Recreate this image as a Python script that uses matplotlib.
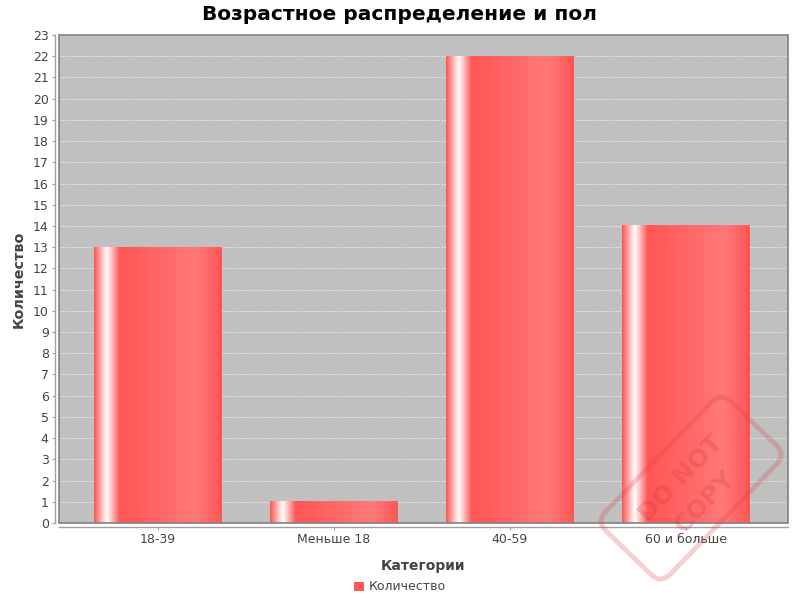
import numpy as np
import matplotlib
matplotlib.use("Agg")
import matplotlib.pyplot as plt
from matplotlib.patches import Rectangle, FancyBboxPatch
from matplotlib.transforms import Affine2D, IdentityTransform
from matplotlib.colors import to_rgb

# ---- data ----
categories = ["18-39", "Меньше 18", "40-59", "60 и больше"]
values = [13, 1, 22, 14]
series_name = "Количество"
title = "Возрастное распределение и пол"
x_label = "Категории"
y_label = "Количество"
y_ticks = list(range(0, 24))

plt.rcParams['font.family'] = ['DejaVu Sans']

W, H = 800, 600
fig = plt.figure(figsize=(8, 6), dpi=100)
fig.patch.set_facecolor("white")

L, R, T, B = 59, 788, 35, 523
ax = fig.add_axes([L / W, 1 - B / H, (R - L) / W, (B - T) / H])
ax.set_facecolor("#c0c0c0")

base = np.array(to_rgb("#ff5555"))
bright = np.array(to_rgb("#ff7979"))
white = np.array([1.0, 1.0, 1.0])
stops = [0.0, 0.10, 0.20, 0.80, 1.0]
cols = [base, white, base, bright, base]
N = 256
t = np.linspace(0, 1, N)
grad = np.zeros((1, N, 3))
for ch in range(3):
    grad[0, :, ch] = np.interp(t, stops, [c[ch] for c in cols])

bar_w = 0.727
x = np.arange(len(categories))
for xi, v in zip(x, values):
    ax.imshow(grad, extent=(xi - bar_w / 2, xi + bar_w / 2, 0, v),
              aspect='auto', interpolation='bilinear', zorder=3)

ax.set_xlim(-0.5625, 3.58)
ax.set_ylim(0, 23)
ax.set_yticks(y_ticks)
ax.set_xticks(x)
ax.set_xticklabels(categories)

ax.yaxis.grid(True, color="#ffffff", linestyle=(0, (2, 2)), linewidth=0.55, alpha=0.95, zorder=1)
ax.xaxis.grid(False)
ax.set_axisbelow(True)

for s in ["top", "right"]:
    ax.spines[s].set_visible(False)
for s in ["left", "bottom"]:
    ax.spines[s].set_position(("outward", 2.9))
    ax.spines[s].set_color("#a0a0a0")
    ax.spines[s].set_linewidth(1.0)

# plot outline
ax.add_patch(Rectangle((0, 0), 1, 1, transform=ax.transAxes, fill=False,
                       edgecolor="#808080", linewidth=1.2, zorder=5, clip_on=False))

ax.tick_params(axis='both', direction='out', length=2.5, width=0.8, color="#a0a0a0",
               labelsize=9, labelcolor="#444444", pad=2)

ax.set_xlabel(x_label, fontsize=10, fontweight='bold', color="#444444", labelpad=9)
ax.set_ylabel(y_label, fontsize=10.3, fontweight='bold', color="#444444", labelpad=5)

fig.text(0.5, 1 - 14 / H, title, ha='center', va='center', fontsize=14.5,
         fontweight='bold', color="black")

leg = fig.legend(handles=[Rectangle((0, 0), 1, 1, facecolor="#ff5555", edgecolor="none")],
                 labels=[series_name], loc='center', bbox_to_anchor=(0.5, 1 - 587 / H),
                 frameon=False, handlelength=0.75, handleheight=0.75, handletextpad=0.4,
                 fontsize=9, labelcolor="#444444")

# watermark stamp
cx, cy = 691, H - 488
rot = Affine2D().rotate_deg_around(cx, cy, 46)
stamp = FancyBboxPatch((cx - 90, cy - 45), 180, 90,
                       boxstyle="round,pad=0,rounding_size=14",
                       transform=rot + IdentityTransform(), fill=False,
                       edgecolor=(0.88, 0.25, 0.25), alpha=0.25, linewidth=3.5, zorder=10)
fig.add_artist(stamp)
for txt, dy in [("DO NOT", 14), ("COPY", -20)]:
    px, py = rot.transform((cx, cy + dy))
    fig.text(px / W, py / H, txt, ha='center', va='center', rotation=46,
             fontsize=18, fontweight='bold', color=(0.85, 0.2, 0.2), alpha=0.25,
             rotation_mode='anchor', zorder=10)

fig.savefig("out.png", dpi=100)
